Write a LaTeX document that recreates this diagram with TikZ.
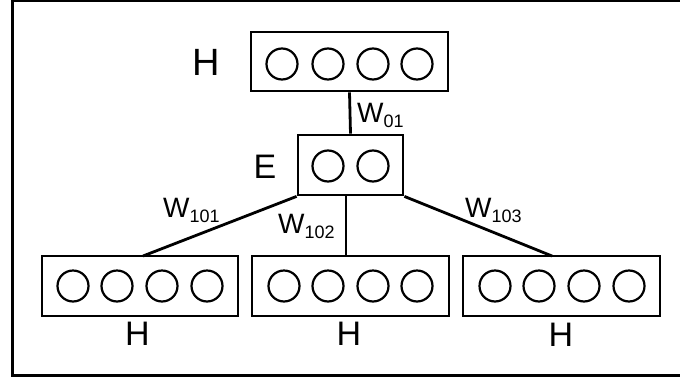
\documentclass[tikz,border=0pt]{standalone}
\usepackage{fontspec}
\setmainfont{Liberation Sans}
\begin{document}
\begin{tikzpicture}[x=1pt,y=-1pt,
  layerbox/.style={draw,line width=2.8pt,rectangle,inner sep=0pt},
  unit/.style={draw,line width=2.2pt,circle,inner sep=0pt,minimum size=31pt},
  conn/.style={line width=2.8pt},
  biglbl/.style={inner sep=0pt,font=\fontsize{34}{38}\selectfont},
  wlbl/.style={inner sep=0pt,anchor=base west,font=\fontsize{28}{32}\selectfont}]
\useasboundingbox (0,0) rectangle (680,378);
\clip (0,0) rectangle (680,378);
\newcommand{\wsub}[1]{W\raisebox{-5.5pt}{\fontsize{18}{20}\selectfont #1}}
% outer frame
\draw[line width=3pt] (12,0) rectangle (700,375);
% top H layer
\node[layerbox,minimum width=197pt,minimum height=59pt] (top) at (349.5,61.5) {};
\foreach \x [count=\i] in {282,328,373,417} \node[unit] (t\i) at (\x,64) {};
\node[biglbl,font=\fontsize{38}{42}\selectfont] (htop) at (206,62) {H};
% E layer
\node[layerbox,minimum width=105pt,minimum height=60pt] (emb) at (350.5,165) {};
\foreach \x [count=\i] in {328,373} \node[unit] (e\i) at (\x,166) {};
\node[biglbl] (elbl) at (265,167) {E};
% bottom layers
\node[layerbox,minimum width=196pt,minimum height=60pt] (b1) at (140,286) {};
\node[layerbox,minimum width=197pt,minimum height=60pt] (b2) at (350.5,286) {};
\node[layerbox,minimum width=197pt,minimum height=60pt] (b3) at (561.5,286) {};
\foreach \x [count=\i] in {73,117,162,207} \node[unit] (ba\i) at (\x,286) {};
\foreach \x [count=\i] in {284,328,373,417} \node[unit] (bb\i) at (\x,286) {};
\foreach \x [count=\i] in {495,539,584,629} \node[unit] (bc\i) at (\x,286) {};
\node[biglbl] (h1) at (137.5,334) {H};
\node[biglbl] (h2) at (349,334) {H};
\node[biglbl] (h3) at (561,335) {H};
% connectors
\coordinate (b1top) at (143,256);
\coordinate (b2top) at (346,256);
\coordinate (emidbot) at (346,195);
\coordinate (b3top) at (552,256);
\draw[conn] (top.south) -- (emb.north);
\draw[conn] (emb.south west) -- (b1top);
\draw[conn] (emidbot) -- (b2top);
\draw[conn] (emb.south east) -- (b3top);
% weight labels
\node[wlbl] (w01) at (357,122) {\wsub{01}};
\node[wlbl] (w101) at (163,217) {\wsub{101}};
\node[wlbl] (w102) at (278,233) {\wsub{102}};
\node[wlbl] (w103) at (465,217) {\wsub{103}};
\end{tikzpicture}
\end{document}
